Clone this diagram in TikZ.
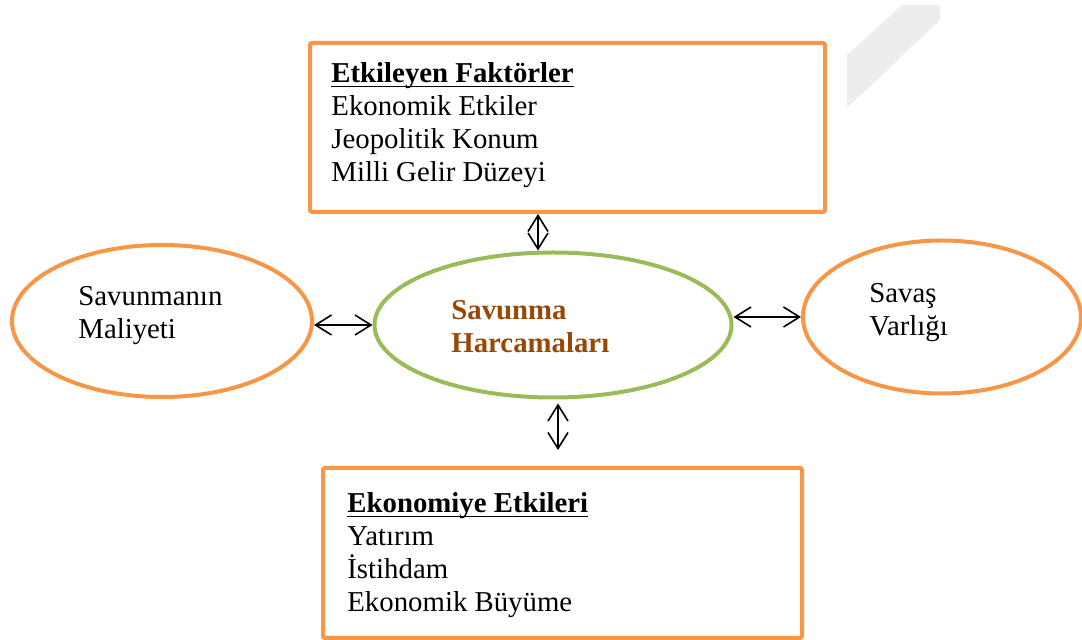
\documentclass[tikz,border=0pt]{standalone}
\usepackage{fontspec}
\setmainfont{Liberation Serif}
\usepackage{xcolor}
\usetikzlibrary{shapes.geometric,arrows.meta}

\definecolor{boxorange}{HTML}{F79646}
\definecolor{ovalgreen}{HTML}{9BBB59}
\definecolor{titlebrown}{HTML}{984806}

\newcommand{\boxtitle}[1]{\setbox0\hbox{\textbf{#1}}\rlap{\rule[-2.2pt]{\wd0}{0.9pt}}\box0}

\tikzset{
	factorbox/.style={draw=boxorange,line width=2pt,rounded corners=1pt,inner sep=0pt},
	oval/.style={ellipse,draw=boxorange,line width=2pt,inner sep=0pt},
	mainoval/.style={oval,draw=ovalgreen},
	txt/.style={anchor=base west,align=left,inner sep=0pt,
		font=\fontsize{14.4pt}{16.5pt}\selectfont},
	twoway/.style={{Straight Barb[length=8pt,width=10pt]}-{Straight Barb[length=8pt,width=10pt]},line width=0.8pt}
}

\begin{document}
\begin{tikzpicture}[x=0.5pt,y=-0.5pt]
			\useasboundingbox (0,0) rectangle (1082,640);
			\fill[black!7] (847,55) -- (902,5) -- (940,5) -- (940,20) -- (847,108) -- cycle;
			%
			\node[factorbox,minimum width=257.5pt,minimum height=84.5pt] (top) at (567.5,127.5) {};
			\node[factorbox,minimum width=239.5pt,minimum height=85pt] (bot) at (562.5,553) {};
			\node[oval,minimum width=150pt,minimum height=76pt] (left) at (162,321) {};
			\node[mainoval,minimum width=178.5pt,minimum height=72.5pt] (mid) at (553,325) {};
			\node[oval,minimum width=139pt,minimum height=76.5pt] (right) at (942,317) {};
			%
			\node[txt] (toptxt) at (331,182) {\boxtitle{Etkileyen Faktörler}\\Ekonomik Etkiler\\Jeopolitik Konum\\Milli Gelir Düzeyi};
			\node[txt] (bottxt) at (347,612) {\boxtitle{Ekonomiye Etkileri}\\Yatırım\\İstihdam\\Ekonomik Büyüme};
			\node[txt] (lefttxt) at (78,339) {Savunmanın\\Maliyeti};
			\node[txt,text=titlebrown,font=\fontsize{14.4pt}{16.5pt}\selectfont\bfseries] (midtxt) at (451,353) {Savunma\\Harcamaları};
			\node[txt] (righttxt) at (869,336) {Savaş\\Varlığı};
			%
			\path[twoway]
				([xshift=-14.75pt]top.south) edge ([xshift=-7.5pt]mid.north)
				([xshift=2.5pt]mid.south) edge[shorten <=2pt,shorten >=8pt] ([xshift=-2.25pt]bot.north)
				(mid.west -| left.east) edge (mid.west)
				(mid.east |- right.west) edge (right.west);
		\end{tikzpicture}
\end{document}
